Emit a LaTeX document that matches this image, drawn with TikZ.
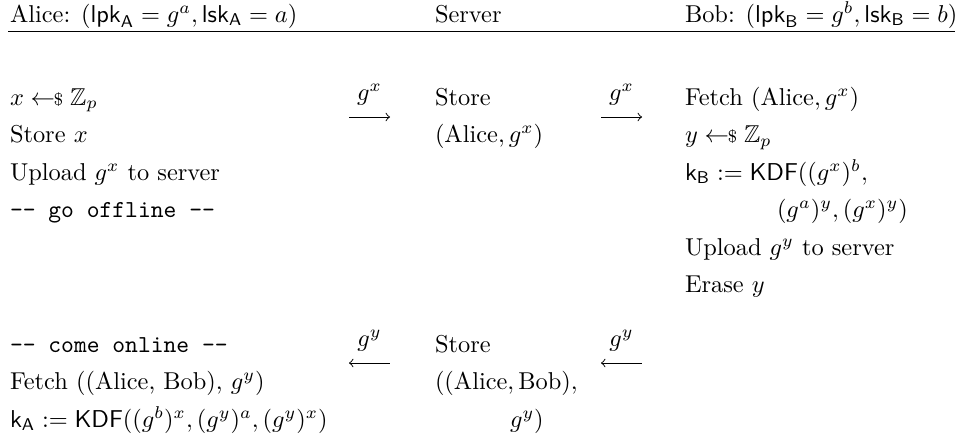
\documentclass[tikz,border=0pt]{standalone}
\usepackage{amsmath}
\usepackage{amssymb}
\usepackage{tikz}
\usetikzlibrary{positioning}

\newcommand{\getsr}{\mathrel{\leftarrow\!\!{\scriptstyle\$}}}

\begin{document}
\begin{tikzpicture}[x=0.41pt,y=-0.41pt,
    txt/.style={anchor=base west,inner sep=0,outer sep=0},
    lbl/.style={above=5pt,inner sep=0,outer sep=0}]
    \useasboundingbox (0,0) rectangle (962,447);

    % header row
    \node(ha)[txt] at (10,22) {Alice: $(\mathsf{lpk}_\mathsf{A} = g^a, \mathsf{lsk}_\mathsf{A} = a)$};
    \node(hs)[txt] at (435,22) {Server};
    \node(hb)[txt] at (685,22) {Bob: $(\mathsf{lpk}_\mathsf{B} = g^b, \mathsf{lsk}_\mathsf{B} = b)$};
    \coordinate(hl) at (8,31);
    \coordinate(hr) at (955,31);
    \draw (hl)--(hr);

    % Alice, first part
    \node(a1)[txt] at (10,105) {$x \getsr \mathbb{Z}_p$};
    \node(a2)[txt] at (10,142.5) {Store $x$};
    \node(a3)[txt] at (10,180) {Upload $g^x$ to server};
    \node(a4)[txt] at (10,217.5) {\texttt{-- go offline --}};

    % server, first part
    \node(s1)[txt] at (435,105) {Store};
    \node(s2)[txt] at (435,142.5) {$(\text{Alice}, g^x)$};

    % Bob
    \node(b1)[txt] at (685,105) {Fetch $(\text{Alice}, g^x)$};
    \node(b2)[txt] at (685,142.5) {$y \getsr \mathbb{Z}_p$};
    \node(b3)[txt] at (685,180) {$\mathsf{k}_\mathsf{B} := \mathsf{KDF}((g^x)^b,$};
    \node(b4)[txt] at (777,217.5) {$(g^a)^y, (g^x)^y)$};
    \node(b5)[txt] at (685,255) {Upload $g^y$ to server};
    \node(b6)[txt] at (685,292.5) {Erase $y$};

    % Alice, second part
    \node(a5)[txt] at (10,352) {\texttt{-- come online --}};
    \node(a6)[txt] at (10,389.5) {Fetch ((Alice, Bob), $g^y$)};
    \node(a7)[txt] at (10,427) {$\mathsf{k}_\mathsf{A} := \mathsf{KDF}((g^b)^x, (g^y)^a, (g^y)^x)$};

    % server, second part
    \node(s3)[txt] at (435,352) {Store};
    \node(s4)[txt] at (435,389.5) {$((\text{Alice}, \text{Bob}),$};
    \node(s5)[txt] at (510,427) {$g^y)$};

    % messages
    \coordinate(p1) at (349,117);
    \coordinate(q1) at (390,117);
    \coordinate(p2) at (601,117);
    \coordinate(q2) at (642,117);
    \coordinate(p3) at (349,363);
    \coordinate(q3) at (390,363);
    \coordinate(p4) at (601,363);
    \coordinate(q4) at (642,363);
    \draw[->] (p1)--node[lbl]{$g^x$}(q1);
    \draw[->] (p2)--node[lbl]{$g^x$}(q2);
    \draw[<-] (p3)--node[lbl]{$g^y$}(q3);
    \draw[<-] (p4)--node[lbl]{$g^y$}(q4);
\end{tikzpicture}
\end{document}
